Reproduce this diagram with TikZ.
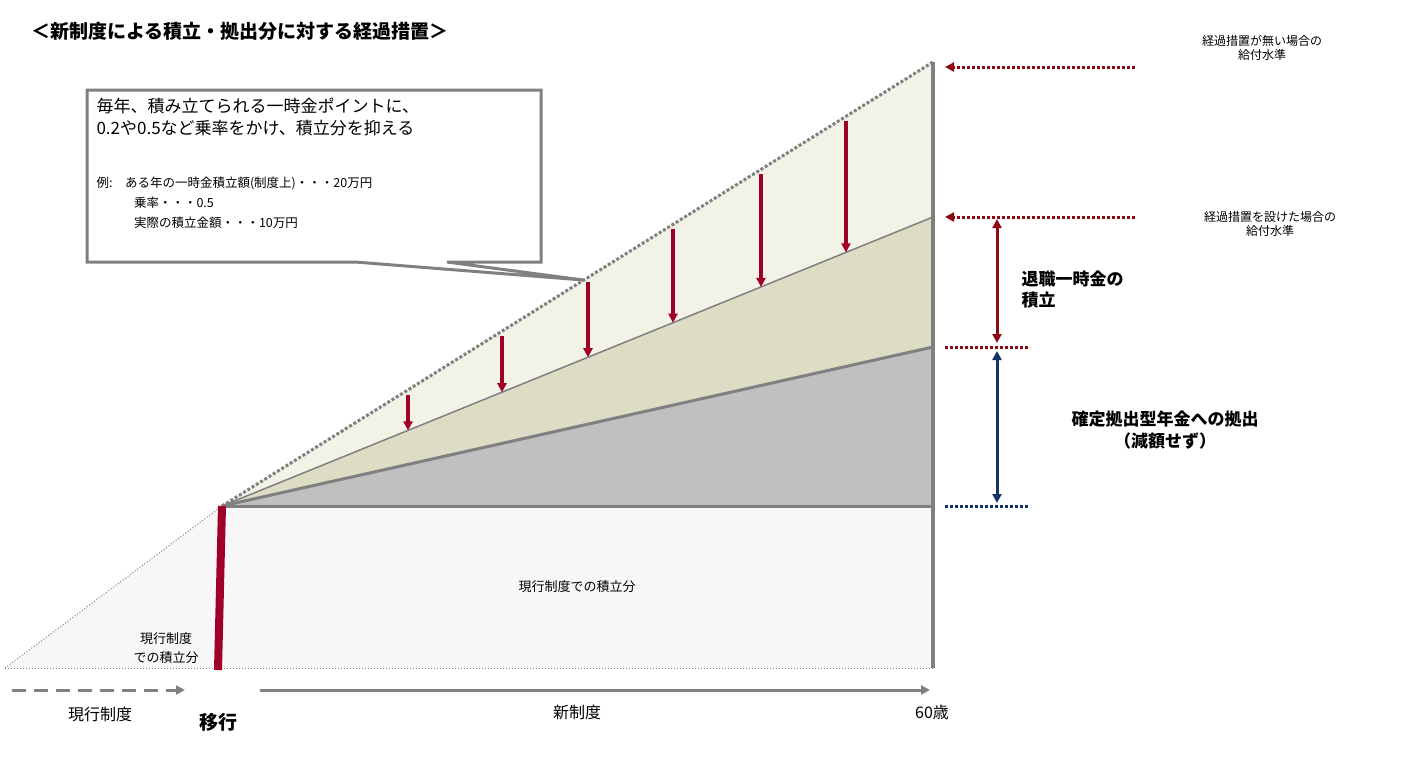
\documentclass[tikz,border=0pt]{standalone}
\usepackage{fontspec}
\setmainfont{Noto Sans CJK JP}
\usetikzlibrary{positioning}
\usetikzlibrary{arrows.meta}
\usetikzlibrary{calc}
\definecolor{barred}{RGB}{160,0,40}
\definecolor{darkred}{RGB}{140,10,20}
\definecolor{navy}{RGB}{20,50,100}
\definecolor{axisgray}{RGB}{128,128,128}
\definecolor{color-base}{RGB}{247,247,247}
\definecolor{color-dc}{RGB}{192,192,192}
\definecolor{color-tan}{RGB}{221,220,196}
\definecolor{color-cream}{RGB}{242,242,230}

\begin{document}
\begin{tikzpicture}[x=1pt, y=-1pt, >={Triangle[length=9pt,width=9pt]},
  redarrow/.style={->, barred, line width=3.5pt},
  levelarrow/.style={->, line width=3pt, dotted},
  small/.style={font=\fontsize{12}{14}\selectfont, align=center},
  bold/.style={font=\fontsize{17}{21}\selectfont\bfseries, align=left}]
\useasboundingbox (0,0) rectangle (1402,756);

% corner points
\coordinate (o) at (5,668);
\coordinate (t) at (222,506);
\coordinate (e) at (933,668);
\coordinate (base) at (933,506);
\coordinate (dc) at (933,347);
\coordinate (mid) at (933,217);
\coordinate (top) at (933,62);

%% regions
\fill[color-base] (o) -- (t) -- (base) -- (e) -- cycle;
\fill[color-dc] (t) -- (dc) -- (base) -- cycle;
\fill[color-tan] (t) -- (mid) -- (dc) -- cycle;
\fill[color-cream] (t) -- (top) -- (mid) -- cycle;

\draw[axisgray, line width=1pt, dotted] (o) -- (t);
\draw[axisgray, line width=3pt, dotted] (t) -- (top);
\draw[axisgray, line width=1.5pt] (t) -- (mid);
\draw[axisgray, line width=3pt] (t) -- (dc);
\draw[axisgray, line width=3pt] (t) -- (base);
\draw[axisgray, line width=1pt, dotted] (o) -- (e);
\draw[axisgray, line width=4pt] (top) -- (e);

%% arrows from the top line down to the middle line
\foreach \x in {408,502,588,673,761,846}
  \draw[redarrow] (\x,{506-(\x-222)/711*444+5}) -- (\x,{506-(\x-222)/711*289});

\draw[barred, line width=8pt] (222,506) -- (218,670);

%% callout
\draw[axisgray, line width=3pt, fill=white] (87,90) -- (541,90) -- (541,262) -- (447,262)
  -- (583,280) -- (355,262) -- (87,262) -- cycle;
\node[anchor=north west, align=left, font=\fontsize{17}{22}\selectfont] (note) at (93,95)
  {毎年、積み立てられる一時金ポイントに、\\0.2や0.5など乗率をかけ、積立分を抑える};
\node[anchor=north west, align=left, font=\fontsize{12.5}{20}\selectfont] (ex) at (93,173)
  {例:\quad ある年の一時金積立額(制度上)・・・20万円\\
   \hspace*{3em}乗率・・・0.5\\
   \hspace*{3em}実際の積立金額・・・10万円};

%% title
\node[anchor=west, font=\fontsize{19}{22}\selectfont\bfseries] (title) at (28,31)
  {＜新制度による積立・拠出分に対する経過措置＞};

%% right side levels
\draw[levelarrow, darkred] (1135,67) -- (945,67);
\draw[levelarrow, darkred] (1135,217) -- (945,217);
\draw[darkred, line width=3pt, dotted] (945,347) -- (1030,347);
\draw[navy, line width=3pt, dotted] (945,506) -- (1030,506);
\node[small] (nolevel) at (1262,48) {経過措置が無い場合の\\給付水準};
\node[small] (withlevel) at (1270,224) {経過措置を設けた場合の\\給付水準};

\draw[<->, darkred, line width=3pt] (997,219) -- (997,343);
\draw[<->, navy, line width=3pt] (997,351) -- (997,503);
\node[bold, anchor=west] (lump) at (1018,290) {退職一時金の\\積立};
\node[font=\fontsize{17}{22}\selectfont\bfseries, align=center] (dc-label) at (1165,430)
  {確定拠出型年金への拠出\\（減額せず）};

%% body texts
\node[font=\fontsize{13}{15}\selectfont] (cur) at (577,587) {現行制度での積立分};
\node[font=\fontsize{13}{19}\selectfont, align=center] (curleft) at (166,648) {現行制度\\での積立分};

%% timeline
\draw[->, axisgray, line width=3pt, dash pattern=on 14pt off 8pt] (12,690) -- (185,690);
\draw[->, axisgray, line width=3pt] (260,690) -- (930,690);
\node[font=\fontsize{16}{19}\selectfont] (now) at (100,714) {現行制度};
\node[font=\fontsize{19}{22}\selectfont\bfseries] (move) at (218,722) {移行};
\node[font=\fontsize{16}{19}\selectfont] (new) at (577,712) {新制度};
\node[font=\fontsize{16}{19}\selectfont] (age) at (932,712) {60歳};
\end{tikzpicture}
\end{document}
